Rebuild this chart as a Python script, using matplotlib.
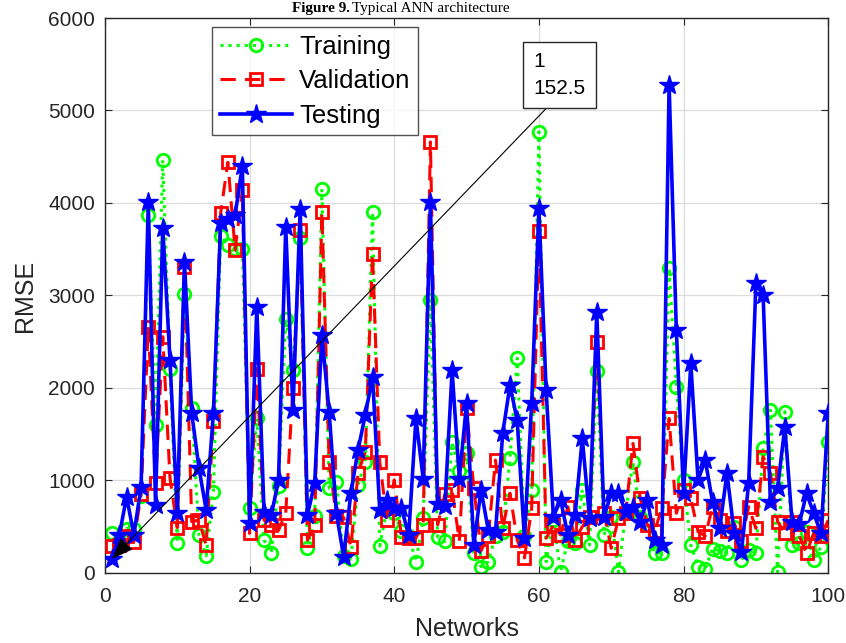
import matplotlib
matplotlib.use("Agg")
import matplotlib.pyplot as plt
import numpy as np

networks = list(range(1, 101))

training = [430, 350, 480, 480, 830, 3870, 1600, 4465, 2205, 325,
            3015, 1780, 410, 184, 880, 3640, 3550, 3500, 3500, 700,
            1670, 356, 215, 935, 2750, 2190, 3620, 270, 610, 4150,
            915, 985, 180, 150, 950, 1200, 3900, 290, 700, 650,
            450, 400, 122, 590, 2950, 390, 340, 1420, 1100, 1300,
            215, 68, 122, 400, 446, 1240, 2320, 400, 896, 4770,
            122, 570, 14, 350, 320, 900, 302, 2180, 410, 600,
            10, 650, 1200, 600, 520, 215, 215, 3300, 2015, 1005,
            302, 68, 42, 260, 240, 216, 500, 140, 250, 216,
            1346, 1760, 10, 1744, 300, 320, 440, 140, 284, 1418]

validation = [290, 300, 400, 335, 850, 2660, 970, 2555, 1025, 490,
              3310, 555, 570, 300, 1640, 3890, 4440, 3490, 4140, 428,
              2210, 570, 520, 460, 645, 2000, 3705, 356, 518, 3900,
              1200, 610, 600, 285, 1080, 1310, 3450, 1200, 570, 1005,
              390, 380, 380, 520, 4660, 520, 850, 900, 345, 1780,
              915, 240, 400, 1220, 486, 862, 356, 162, 700, 3700,
              375, 518, 410, 716, 356, 500, 600, 2500, 650, 266,
              590, 650, 1400, 808, 518, 450, 700, 1670, 645, 900,
              808, 446, 400, 716, 570, 450, 535, 350, 716, 482,
              1256, 1080, 554, 430, 554, 400, 216, 430, 400, 570]

testing = [152.5, 410, 825, 410, 930, 4010, 735, 3730, 2300, 650,
           3365, 1730, 1135, 680, 1730, 3780, 3830, 3870, 4400, 537,
           2875, 660, 625, 1000, 3740, 1760, 3940, 626, 970, 2570,
           1745, 645, 177, 860, 1330, 1710, 2120, 680, 790, 700,
           700, 410, 1670, 1020, 4010, 750, 720, 2190, 1020, 1833,
           302, 896, 464, 446, 1510, 2030, 1650, 375, 1833, 3943,
           1976, 608, 790, 410, 626, 1455, 590, 2825, 608, 860,
           860, 662, 716, 554, 790, 356, 302, 5280, 2624, 860,
           2265, 1005, 1220, 770, 482, 1080, 428, 230, 970, 3130,
           3000, 770, 915, 1580, 554, 532, 860, 644, 428, 1725]

x_ticks = [0, 20, 40, 60, 80, 100]
y_ticks = [0, 1000, 2000, 3000, 4000, 5000, 6000]
tip_x, tip_y = 1, 152.5

plt.rcParams['font.family'] = ['Liberation Sans', 'DejaVu Sans']

fig = plt.figure(figsize=(8.46, 6.43), dpi=100)
ax = fig.add_axes([0.124, 0.109, 0.855, 0.863])

ax.plot(networks, training, color='#00ff00', linestyle=':', linewidth=2.2,
        marker='o', markersize=9, markerfacecolor='none', markeredgewidth=2,
        label='Training', zorder=2)
ax.plot(networks, validation, color='#ff0000', linestyle=(0, (5, 3)), linewidth=2.2,
        marker='s', markersize=8, markerfacecolor='none', markeredgewidth=2,
        label='Validation', zorder=3)
ax.plot(networks, testing, color='#0000ff', linestyle='-', linewidth=2.6,
        marker='*', markersize=15, markerfacecolor='#0000ff', markeredgecolor='#0000ff',
        label='Testing', zorder=4)

ax.set_xlim(0, 100)
ax.set_ylim(0, 6000)
ax.set_xticks(x_ticks)
ax.set_yticks(y_ticks)
ax.grid(True, color='#dcdcdc', linewidth=0.9)
ax.set_axisbelow(True)
ax.tick_params(direction='in', top=True, right=True, labelsize=15,
               colors='#262626', length=5)
ax.tick_params(axis='x', pad=10)
ax.tick_params(axis='y', pad=7)
for s in ax.spines.values():
    s.set_color('#262626')
    s.set_linewidth(1.0)

ax.set_xlabel('Networks', fontsize=18, color='#262626', labelpad=8)
ax.set_ylabel('RMSE', fontsize=18, color='#262626', labelpad=8)

leg = ax.legend(loc='upper left', bbox_to_anchor=(0.148, 0.983), fontsize=18.5,
                frameon=True, fancybox=False, edgecolor='#262626',
                handlelength=2.8, borderpad=0.3, labelspacing=0.4,
                handletextpad=0.3, borderaxespad=0)
leg.get_frame().set_linewidth(1.0)

ax.annotate('1\n152.5', xy=(tip_x, tip_y), xytext=(59.2, 5385),
            textcoords='data', fontsize=15, ha='left', va='center',
            linespacing=1.5,
            bbox=dict(boxstyle='square,pad=0.5', facecolor='white',
                      edgecolor='#262626', linewidth=1.0),
            arrowprops=dict(arrowstyle='-|>,head_length=0.9,head_width=0.35',
                            color='black', linewidth=0.8, relpos=(0.45, 0.0),
                            shrinkA=0, shrinkB=0),
            zorder=6)

fig.text(292 / 846, 1 - 12 / 643, 'Figure 9.', family='Liberation Serif',
         fontweight='bold', fontsize=11, ha='left', va='baseline')
fig.text(352 / 846, 1 - 12 / 643, 'Typical ANN architecture', family='Liberation Serif',
         fontsize=11, ha='left', va='baseline')

fig.savefig('out.png', dpi=100)
